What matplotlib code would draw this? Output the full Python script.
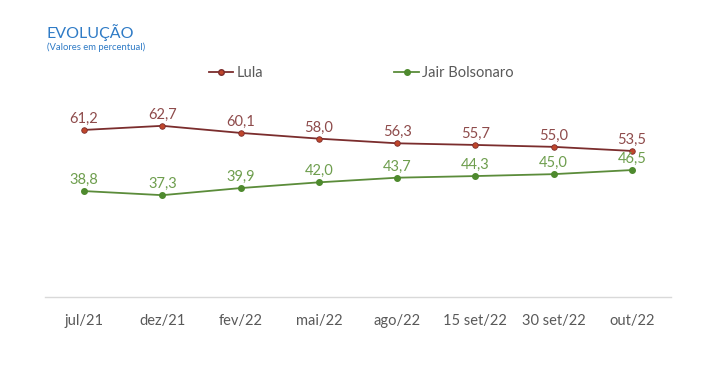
import matplotlib
matplotlib.use("Agg")
import matplotlib.pyplot as plt
from matplotlib.lines import Line2D

categories = ["jul/21", "dez/21", "fev/22", "mai/22", "ago/22", "15 set/22", "30 set/22", "out/22"]
lula = [61.2, 62.7, 60.1, 58.0, 56.3, 55.7, 55.0, 53.5]
bolsonaro = [38.8, 37.3, 39.9, 42.0, 43.7, 44.3, 45.0, 46.5]
series_names = ["Lula", "Jair Bolsonaro"]

plt.rcParams['font.family'] = ['Lato', 'DejaVu Sans']

W, H = 717, 368
fig = plt.figure(figsize=(W/100, H/100), dpi=100)
ax = fig.add_axes([45/W, 71/H, 626/W, 273/H])

lula_line = "#7B2D2D"
lula_mark = "#C0462B"
lula_text = "#8E4B4B"
bol_line = "#5B8C3A"
bol_mark = "#4E8A2E"
bol_text = "#6E9E4E"

x = list(range(len(categories)))
ax.plot(x, lula, color=lula_line, lw=1.3, marker='o', ms=4, mfc=lula_mark, mec=lula_line, mew=0.6)
ax.plot(x, bolsonaro, color=bol_line, lw=1.3, marker='o', ms=4, mfc=bol_mark, mec=bol_mark)

def fmt(v):
    return f"{v:.1f}".replace(".", ",")

for xi, v in zip(x, lula):
    ax.annotate(fmt(v), (xi, v), xytext=(0, 3), textcoords='offset points', ha='center', va='bottom',
                fontsize=10.5, color=lula_text)
for xi, v in zip(x, bolsonaro):
    ax.annotate(fmt(v), (xi, v), xytext=(0, 3), textcoords='offset points', ha='center', va='bottom',
                fontsize=10.5, color=bol_text)

ax.set_xlim(-0.5, len(categories) - 0.5)
ax.set_ylim(0, 100)
ax.set_xticks(x)
ax.set_xticklabels(categories, fontsize=10.5, color="#595959")
ax.tick_params(axis='x', length=0, pad=12)
ax.set_yticks([])
for s in ['top', 'right', 'left']:
    ax.spines[s].set_visible(False)
ax.spines['bottom'].set_color("#D9D9D9")
ax.spines['bottom'].set_linewidth(1)

fig.text(46/W, 1 - 33/H, "EVOLUÇÃO", fontsize=11.5, color="#2F7BC6", va='center', ha='left')
fig.text(47/W, 1 - 47/H, "(Valores em percentual)", fontsize=6.8, color="#2F7BC6", va='center', ha='left')

handles = [Line2D([0], [0], color=lula_line, lw=1.3, marker='o', ms=4, mfc=lula_mark, mec=lula_line),
           Line2D([0], [0], color=bol_line, lw=1.3, marker='o', ms=4, mfc=bol_mark, mec=bol_mark)]
leg = fig.legend(handles, series_names, loc='center', bbox_to_anchor=(361/W, 1 - 73/H), ncol=2,
                 frameon=False, fontsize=10.5, handlelength=1.7, handletextpad=0.2, columnspacing=9.0)
for t in leg.get_texts():
    t.set_color("#595959")

fig.savefig("out.png", dpi=100)
